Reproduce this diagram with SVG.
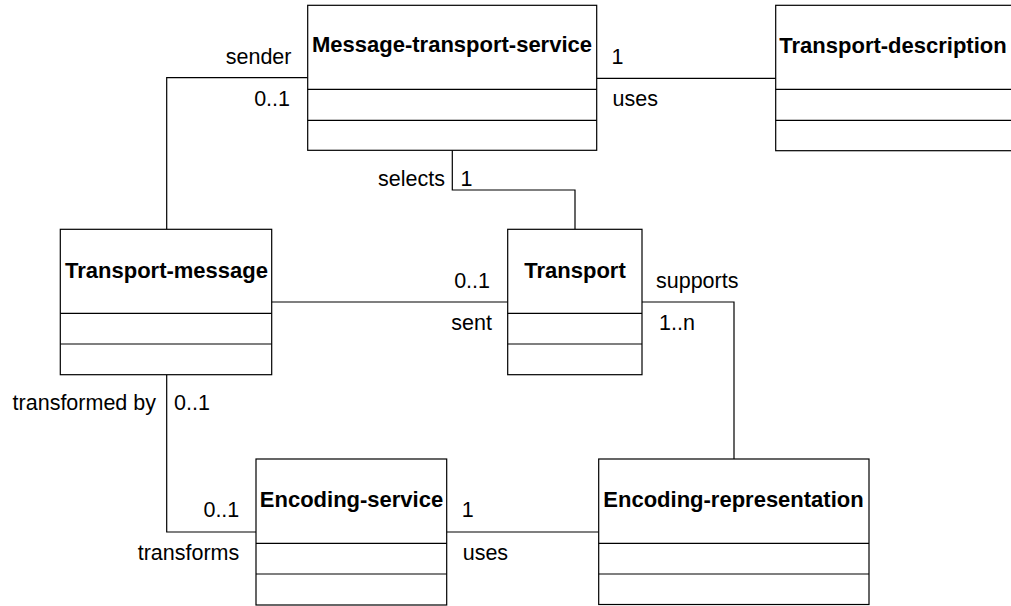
<svg xmlns="http://www.w3.org/2000/svg" width="1011" height="606" viewBox="0 0 1011 606">
<style>
.box{fill:#fff;stroke:#000;stroke-width:1.2}
.sep{stroke:#000;stroke-width:1.2;fill:none}
.conn{stroke:#000;stroke-width:1.2;fill:none}
.title{font-family:"Liberation Sans",Arial,sans-serif;font-weight:bold;font-size:22px;fill:#000;text-anchor:middle}
.lbl{font-family:"Liberation Sans",Arial,sans-serif;font-size:21.5px;fill:#000}
.end{text-anchor:end}
</style>
<rect width="1011" height="606" fill="#fff"/>
<g id="connectors">
<polyline class="conn" points="307.7,77.7 166.7,77.7 166.7,229.3"/>
<line class="conn" x1="596.7" y1="78.3" x2="775.7" y2="78.3"/>
<polyline class="conn" points="452.3,150.3 452.3,190 575,190 575,229.3"/>
<line class="conn" x1="271.7" y1="302" x2="507.7" y2="302"/>
<polyline class="conn" points="642,302 734,302 734,459"/>
<polyline class="conn" points="166.7,374.7 166.7,532 256,532"/>
<line class="conn" x1="446.7" y1="532" x2="598.7" y2="532"/>
</g>
<g id="connector-labels">
<text class="lbl end" x="291.5" y="64">sender</text>
<text class="lbl end" x="290" y="106">0..1</text>
<text class="lbl" x="611.5" y="64">1</text>
<text class="lbl" x="612.5" y="106">uses</text>
<text class="lbl end" x="445" y="186">selects</text>
<text class="lbl" x="460.5" y="186">1</text>
<text class="lbl end" x="490" y="288">0..1</text>
<text class="lbl end" x="492" y="330">sent</text>
<text class="lbl" x="656" y="288">supports</text>
<text class="lbl" x="659" y="330">1..n</text>
<text class="lbl end" x="156" y="410">transformed by</text>
<text class="lbl" x="174" y="410">0..1</text>
<text class="lbl end" x="239.3" y="517">0..1</text>
<text class="lbl end" x="239.3" y="560">transforms</text>
<text class="lbl" x="461.7" y="517">1</text>
<text class="lbl" x="462.7" y="560">uses</text>
</g>
<g id="message-transport-service">
<rect class="box" x="307.7" y="5.3" width="289" height="145"/>
<line class="sep" x1="307.7" y1="89.3" x2="596.7" y2="89.3"/>
<line class="sep" x1="307.7" y1="120.3" x2="596.7" y2="120.3"/>
<text class="title" x="452" y="52">Message-transport-service</text>
</g>
<g id="transport-description">
<rect class="box" x="775.7" y="5.3" width="240" height="145.4"/>
<line class="sep" x1="775.7" y1="89.3" x2="1015.7" y2="89.3"/>
<line class="sep" x1="775.7" y1="120.3" x2="1015.7" y2="120.3"/>
<text class="title" x="893" y="53">Transport-description</text>
</g>
<g id="transport-message">
<rect class="box" x="60.3" y="229.3" width="211.4" height="145.4"/>
<line class="sep" x1="60.3" y1="313.3" x2="271.7" y2="313.3"/>
<line class="sep" x1="60.3" y1="344" x2="271.7" y2="344"/>
<text class="title" x="166.5" y="278">Transport-message</text>
</g>
<g id="transport">
<rect class="box" x="507.7" y="229.3" width="134.3" height="145.4"/>
<line class="sep" x1="507.7" y1="313.3" x2="642" y2="313.3"/>
<line class="sep" x1="507.7" y1="344" x2="642" y2="344"/>
<text class="title" x="575" y="278">Transport</text>
</g>
<g id="encoding-service">
<rect class="box" x="256" y="459" width="190.7" height="146"/>
<line class="sep" x1="256" y1="543.3" x2="446.7" y2="543.3"/>
<line class="sep" x1="256" y1="574" x2="446.7" y2="574"/>
<text class="title" x="351.5" y="507">Encoding-service</text>
</g>
<g id="encoding-representation">
<rect class="box" x="598.7" y="459" width="270.3" height="145.5"/>
<line class="sep" x1="598.7" y1="543.3" x2="869" y2="543.3"/>
<line class="sep" x1="598.7" y1="574" x2="869" y2="574"/>
<text class="title" x="733.5" y="507">Encoding-representation</text>
</g>
</svg>
